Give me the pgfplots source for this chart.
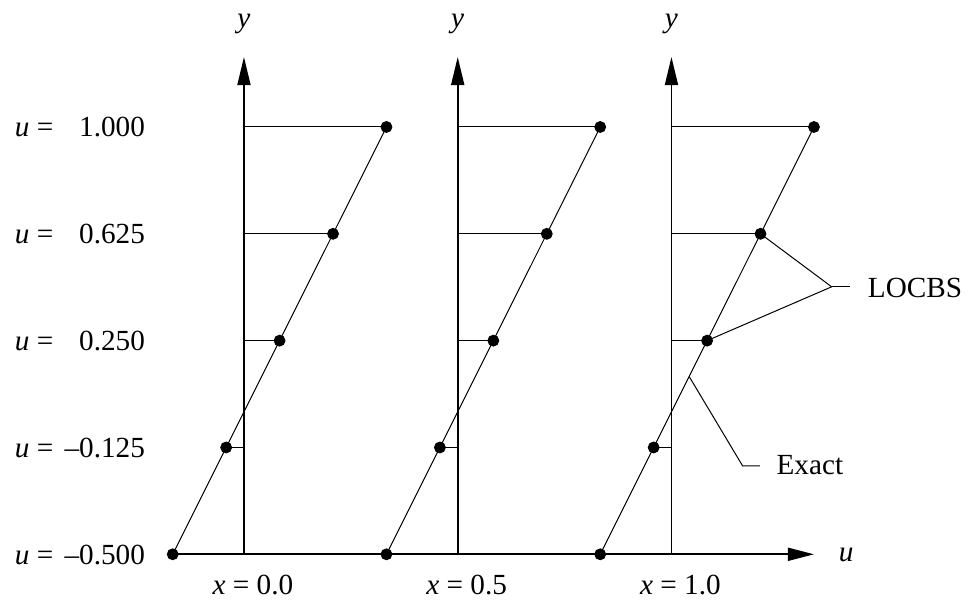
\documentclass[border=0pt]{standalone}
\usepackage{pgfplots}
\pgfplotsset{compat=1.18}
\usepackage{pgfplotstable}
\usepackage{fontspec}
\setmainfont{Liberation Serif}
\usetikzlibrary{arrows.meta}

% linear profile u(y) = 1.5 y - 0.5, identical at every station x
\pgfplotstableread{
y    u
1.00  1.000
0.75  0.625
0.50  0.250
0.25 -0.125
0.00 -0.500
}\profile

\begin{document}
\begin{tikzpicture}[font=\fontsize{14.6}{17}\selectfont,
  lab/.style={inner sep=0pt, outer sep=0pt}]
\begin{axis}[
  scale only axis, width=485.5pt, height=300.5pt,
  xmin=-1.712, xmax=5.102, ymin=-0.1093, ymax=1.2972,
  hide axis, clip=false,
]
\path (rel axis cs:0,0) rectangle (rel axis cs:1,1);

% horizontal u axis
\addplot[black, line width=0.85pt, -{Triangle[length=13pt,width=6.5pt]}]
  coordinates {(-0.5,0) (4.0,0)};

% one vertical y axis per station, profile drawn beside it (offset 1.5)
\pgfplotsinvokeforeach{0,1.5,3}{
  \addplot[black, line width=0.85pt, -{Triangle[length=14pt,width=6.5pt]}]
    coordinates {(#1,0) (#1,1.1638)};
  \addplot[black, line width=0.5pt, quiver={u=-\thisrow{u}, v=0}]
    table[x expr=\thisrow{u}+#1, y=y] {\profile};
  \addplot[black, line width=0.5pt, mark=*, mark size=2.7pt,
           mark options={fill=black}]
    table[x expr=\thisrow{u}+#1, y=y] {\profile};
  \node[lab, anchor=base] at (axis cs:#1,1.234) {\textit{y}};
}

\node[lab, anchor=base] at (axis cs:0.063,-0.0952) {\textit{x} = 0.0};
\node[lab, anchor=base] at (axis cs:1.563,-0.0952) {\textit{x} = 0.5};
\node[lab, anchor=base] at (axis cs:3.063,-0.0952) {\textit{x} = 1.0};
\node[lab, anchor=base west] at (axis cs:4.175,-0.018) {\textit{u}};

% level labels on the left
\node[lab, anchor=base west] at (axis cs:-1.607,0.9766) {\textit{u} =};
\node[lab, anchor=base east] at (axis cs:-0.695,0.9766) {1.000};
\node[lab, anchor=base west] at (axis cs:-1.607,0.7266) {\textit{u} =};
\node[lab, anchor=base east] at (axis cs:-0.695,0.7266) {0.625};
\node[lab, anchor=base west] at (axis cs:-1.607,0.4766) {\textit{u} =};
\node[lab, anchor=base east] at (axis cs:-0.695,0.4766) {0.250};
\node[lab, anchor=base west] at (axis cs:-1.607,0.2266) {\textit{u} =};
\node[lab, anchor=base east] at (axis cs:-0.695,0.2266) {–0.125};
\node[lab, anchor=base west] at (axis cs:-1.607,-0.0234) {\textit{u} =};
\node[lab, anchor=base east] at (axis cs:-0.695,-0.0234) {–0.500};

% callouts
\addplot[black, line width=0.5pt] coordinates {(3.625,0.75) (4.124,0.626) (3.25,0.5)};
\addplot[black, line width=0.5pt] coordinates {(4.124,0.626) (4.253,0.626)};
\node[lab, anchor=base west] at (axis cs:4.379,0.600) {LOCBS};
\addplot[black, line width=0.5pt] coordinates {(3.125,0.4156) (3.4996,0.2067) (3.621,0.2067)};
\node[lab, anchor=base west] at (axis cs:3.738,0.1856) {Exact};
\end{axis}
\end{tikzpicture}
\end{document}
